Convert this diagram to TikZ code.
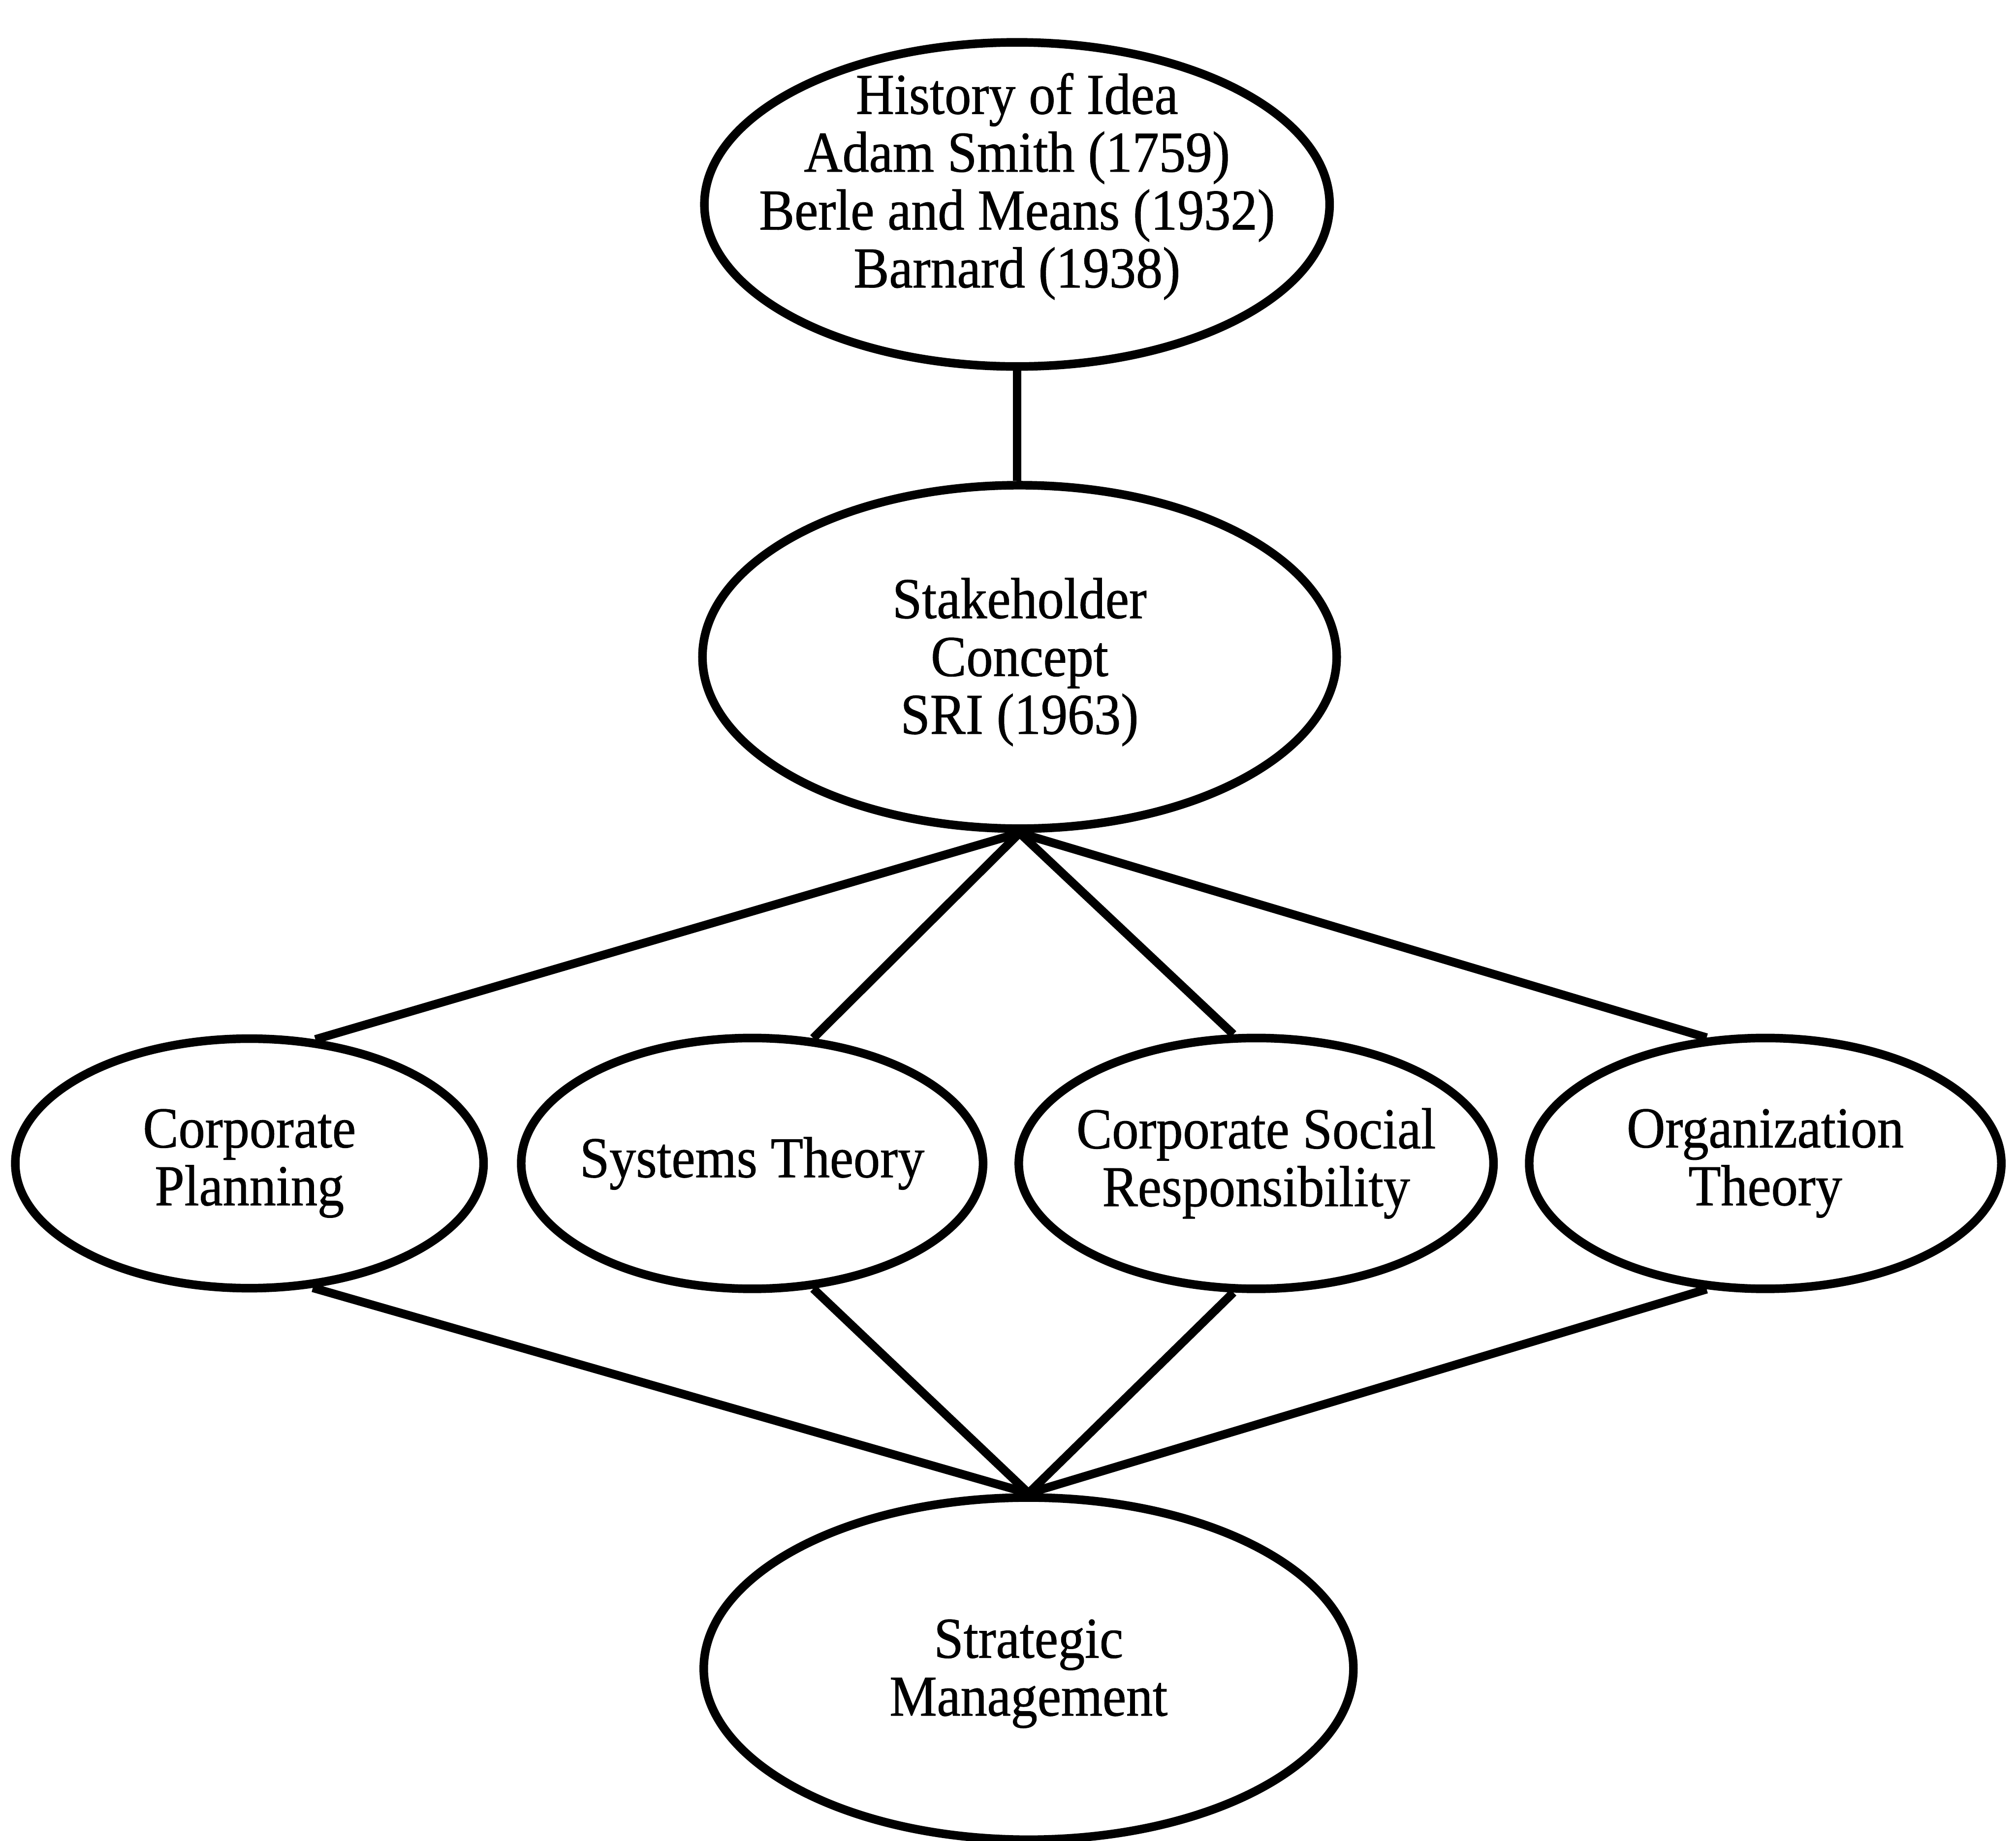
\documentclass[tikz,border=0pt]{standalone}
\usepackage{fontspec}
\setmainfont{Liberation Serif}[FakeBold=0.8, FakeStretch=0.92]
\usetikzlibrary{shapes.geometric}

\begin{document}
\begin{tikzpicture}[x=0.01cm, y=-0.01cm,
  txt/.style={align=center, inner sep=0pt, font=\fontsize{12.8}{12.8}\selectfont},
  bubble/.style={ellipse, draw, line width=1.9pt, inner sep=0pt},
  link/.style={line width=1.9pt}]
  \useasboundingbox (0,0) rectangle (1568,1432);

  % origins of the idea
  \node[bubble, minimum width=4.86cm, minimum height=2.52cm,
    label={[txt, yshift=0.14cm]center:History of Idea\\Adam Smith (1759)\\Berle and Means (1932)\\Barnard (1938)}]
    (hist) at (791,159) {};

  % the concept itself
  \node[bubble, minimum width=4.93cm, minimum height=2.67cm,
    label={[txt, yshift=-0.04cm]center:Stakeholder\\Concept\\SRI (1963)}] (stake) at (793,511) {};

  % four contributing fields
  \node[bubble, minimum width=3.64cm, minimum height=1.94cm,
    label={[txt]center:Corporate\\Planning}] (cp) at (194,905) {};
  \node[bubble, minimum width=3.59cm, minimum height=1.95cm,
    label={[txt]center:Systems Theory}] (st) at (585,905) {};
  \node[bubble, minimum width=3.69cm, minimum height=1.95cm,
    label={[txt]center:Corporate Social\\Responsibility}] (csr) at (977,905) {};
  \node[bubble, minimum width=3.67cm, minimum height=1.95cm,
    label={[txt]center:Organization\\Theory}] (ot) at (1373,905) {};

  % outcome
  \node[bubble, minimum width=5.05cm, minimum height=2.66cm,
    label={[txt, yshift=-0.04cm]center:Strategic\\Management}] (sm) at (800,1298) {};

  % connectors
  \draw[link] (hist.south) -- (hist.south |- stake.north);

  \draw[link] (stake.south) -- (cp.62);
  \draw[link] (stake.south) -- (st.64);
  \draw[link] (stake.south) -- (csr.100);
  \draw[link] (stake.south) -- (ot.115);

  \draw[link] (cp.-63)   -- (sm.north);
  \draw[link] (st.-64)   -- (sm.north);
  \draw[link] (csr.-100) -- (sm.north);
  \draw[link] (ot.-115)  -- (sm.north);
\end{tikzpicture}
\end{document}
